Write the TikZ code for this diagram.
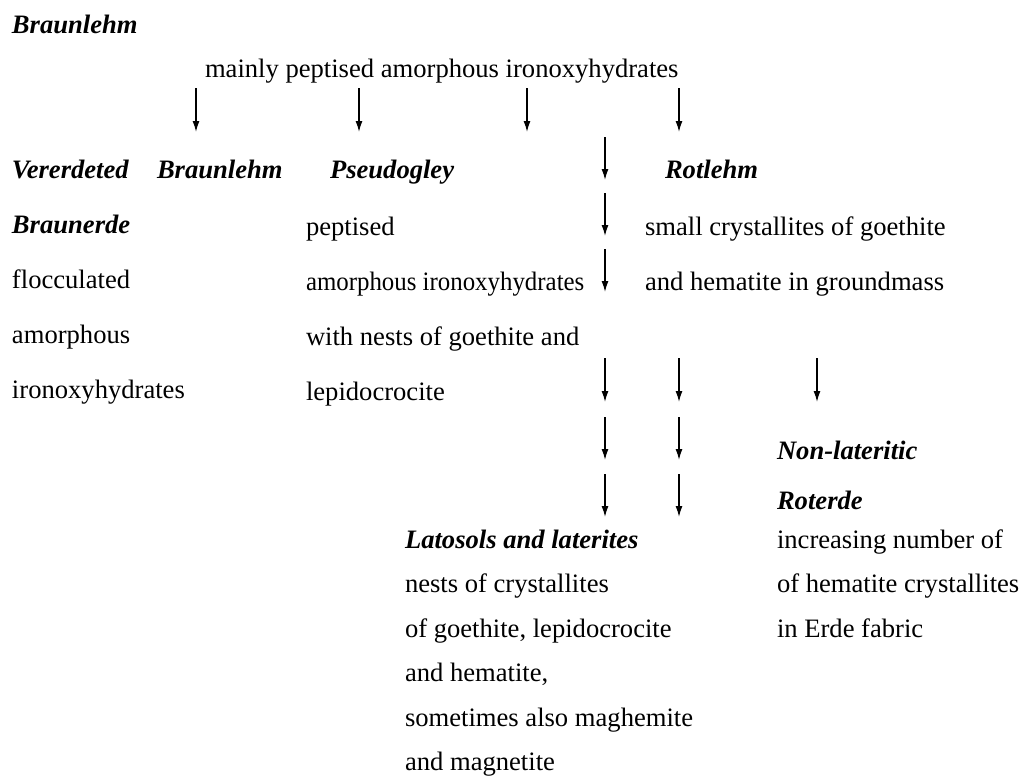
\documentclass[tikz,border=0pt]{standalone}
\usepackage{fontspec}
\setmainfont{Liberation Serif}
\usepackage{graphicx}
\usetikzlibrary{positioning,arrows.meta}
\tikzstyle{txt} = [inner sep=0pt, outer sep=0pt, anchor=west,
    text height=18pt, text depth=0pt, font=\fontsize{26.6}{32}\selectfont]
\tikzstyle{soil} = [txt, font=\fontsize{26.6}{32}\selectfont\bfseries\itshape]
\tikzstyle{line} = [draw, line width=1.4pt, -{Latex[length=11pt,width=7pt]}]
\tikzset{under/.style={below=37pt of #1.south west, anchor=north west},
    tight/.style={below=26.5pt of #1.south west, anchor=north west}}

\begin{document}
\begin{tikzpicture}[x=1pt, y=1pt]
    \useasboundingbox (0,0) rectangle (1021,-777);
    % Place nodes
    \node [soil] (title) at (12,-24) {Braunlehm};
    \node [txt] (mainly) at (205,-68) {mainly peptised amorphous ironoxyhydrates};
    \node [soil] (vererdet) at (12,-169) {Vererdeted};
    \node [soil] (braunl) at (157,-169) {Braunlehm};
    \node [soil] (pseudo) at (330,-169) {Pseudogley};
    \node [soil] (rotlehm) at (665,-169) {Rotlehm};
    \node [soil, under=vererdet] (braunerde) {Braunerde};
    \node [txt, under=braunerde] (floc) {flocculated};
    \node [txt, under=floc] (amorph) {amorphous};
    \node [txt, under=amorph] (ironox) {ironoxyhydrates};
    \node [txt] (peptised) at (306,-226) {peptised};
    \node [txt, under=peptised] (pamorph) {\scalebox{0.935}[1]{amorphous ironoxyhydrates}};
    \node [txt, under=pamorph] (pnests) {with nests of goethite and};
    \node [txt, under=pnests] (plepido) {lepidocrocite};
    \node [txt] (rsmall) at (645,-226) {small crystallites of goethite};
    \node [txt, under=rsmall] (rhema) {and hematite in groundmass};
    \node [soil] (nonlat) at (777,-450) {Non-lateritic};
    \node [soil, below=32pt of nonlat.south west, anchor=north west] (roterde) {Roterde};
    \node [txt] (increase) at (777,-539) {increasing number of};
    \node [txt, tight=increase] (ohema) {of hematite crystallites};
    \node [txt, tight=ohema] (erde) {in Erde fabric};
    \node [soil] (latosol) at (405,-539) {Latosols and laterites};
    \node [txt, tight=latosol] (lnests) {nests of crystallites};
    \node [txt, tight=lnests] (lgoeth) {of goethite, lepidocrocite};
    \node [txt, tight=lgoeth] (lhema) {and hematite,};
    \node [txt, tight=lhema] (lmaghem) {sometimes also maghemite};
    \node [txt, tight=lmaghem] (lmagnet) {and magnetite};
    % Arrow ends
    \coordinate (m1) at (196,-88); \coordinate [below=44pt of m1] (m1e);
    \coordinate (m2) at (359,-88); \coordinate [below=44pt of m2] (m2e);
    \coordinate (m3) at (527,-88); \coordinate [below=44pt of m3] (m3e);
    \coordinate (m4) at (679,-88); \coordinate [below=44pt of m4] (m4e);
    \coordinate (c1) at (605,-137); \coordinate [below=43pt of c1] (c1e);
    \coordinate (c2) at (605,-193); \coordinate [below=43pt of c2] (c2e);
    \coordinate (c3) at (605,-249); \coordinate [below=43pt of c3] (c3e);
    \coordinate (c4) at (605,-358); \coordinate [below=44pt of c4] (c4e);
    \coordinate (c5) at (605,-417); \coordinate [below=43pt of c5] (c5e);
    \coordinate (c6) at (605,-474); \coordinate [below=43pt of c6] (c6e);
    \coordinate (d1) at (679,-358); \coordinate [below=44pt of d1] (d1e);
    \coordinate (d2) at (679,-417); \coordinate [below=43pt of d2] (d2e);
    \coordinate (d3) at (679,-474); \coordinate [below=43pt of d3] (d3e);
    \coordinate (e1) at (817,-358); \coordinate [below=44pt of e1] (e1e);
    % Draw edges
    \path [line] (m1) -- (m1e);
    \path [line] (m2) -- (m2e);
    \path [line] (m3) -- (m3e);
    \path [line] (m4) -- (m4e);
    \path [line] (c1) -- (c1e);
    \path [line] (c2) -- (c2e);
    \path [line] (c3) -- (c3e);
    \path [line] (c4) -- (c4e);
    \path [line] (c5) -- (c5e);
    \path [line] (c6) -- (c6e);
    \path [line] (d1) -- (d1e);
    \path [line] (d2) -- (d2e);
    \path [line] (d3) -- (d3e);
    \path [line] (e1) -- (e1e);
\end{tikzpicture}
\end{document}
